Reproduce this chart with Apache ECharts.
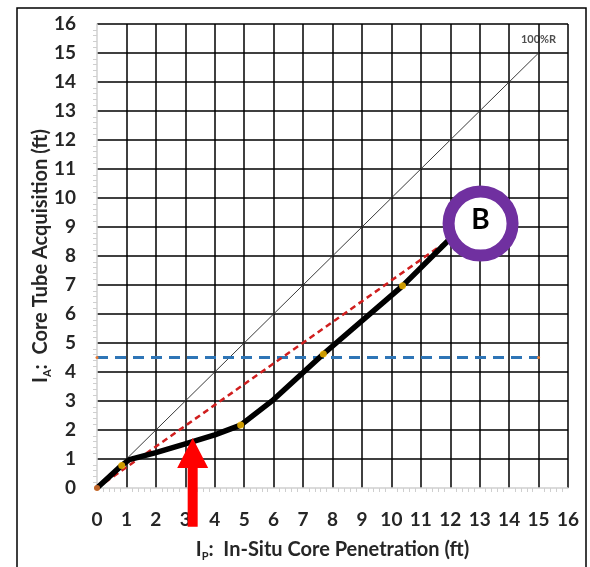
<!DOCTYPE html>
<html>
<head>
<meta charset="utf-8">
<script src="https://cdn.jsdelivr.net/npm/echarts@6/dist/echarts.min.js"></script>
<style>
html,body{margin:0;padding:0;background:#fff;}
#chart{width:590px;height:567px;}
</style>
</head>
<body>
<div id="chart"></div>
<script>
// ---- data ----
const xRange = [0, 16];
const yRange = [0, 16];
// measured core run (black curve)
const penetration = [0, 0.84, 1.1, 2.0, 3.0, 4.0, 4.88, 6.0, 7.69, 10.38, 11.95];
const acquisition = [0, 0.78, 0.98, 1.22, 1.52, 1.83, 2.17, 3.05, 4.62, 6.97, 8.55];
// highlighted measurement points (yellow)
const keyPenetration = [0.84, 4.88, 7.69, 10.38];
const keyAcquisition = [0.78, 2.17, 4.62, 6.97];
// 100% recovery reference
const fullX = [0, 15];
const fullY = [0, 15];
// average-rate line (red dashed)
const avgX = [0, 11.95];
const avgY = [0, 8.55];
// threshold line (blue dashed)
const thresholdX = [0, 15];
const thresholdY = [4.5, 4.5];
// annotations
const markerB = [13.03, 9.12];
const arrowX = 3.25;
const arrowTipY = 1.72;
const arrowBaseY = -1.34;

const zip = (a, b) => a.map((v, i) => [v, b[i]]);
const FONT = 'Lato, "Open Sans", sans-serif';
const TXT = '#262626';

const chart = echarts.init(document.getElementById('chart'), null, {renderer: 'canvas'});

const richName = {
  i: {fontSize: 20, fontWeight: 'bold', fontFamily: FONT, color: TXT, lineHeight: 24},
  s: {fontSize: 11, fontWeight: 'bold', fontFamily: FONT, color: TXT, lineHeight: 13, verticalAlign: 'bottom'},
  t: {fontSize: 20, fontWeight: 'bold', fontFamily: FONT, color: TXT, lineHeight: 24}
};

const option = {
  backgroundColor: '#fff',
  animation: false,
  grid: {left: 97, right: 22, top: 24, bottom: 79, containLabel: false},
  xAxis: {
    type: 'value', min: xRange[0], max: xRange[1], interval: 1,
    name: '{i|I}{s|P}{t|:  In-Situ Core Penetration (ft)}',
    nameLocation: 'middle', nameGap: 50, nameMoveOverlap: false,
    nameTextStyle: {rich: richName},
    axisLine: {show: true, lineStyle: {color: '#d0d0d0', width: 1.5}},
    axisTick: {show: false},
    minorTick: {show: true, splitNumber: 5, length: 4, lineStyle: {color: '#cfcfcf', width: 1}},
    axisLabel: {fontSize: 19, fontWeight: 'bold', fontFamily: FONT, color: TXT, margin: 22},
    splitLine: {show: true, showMinLine: false, lineStyle: {color: '#000', width: 1.5}},
  },
  yAxis: {
    type: 'value', min: yRange[0], max: yRange[1], interval: 1,
    name: '{i|I}{s|A}{t|:  Core Tube Acquisition (ft)}',
    nameLocation: 'middle', nameGap: 44, nameRotate: 90, nameMoveOverlap: false,
    nameTextStyle: {rich: richName},
    axisLine: {show: true, lineStyle: {color: '#d0d0d0', width: 1.5}},
    axisTick: {show: false},
    minorTick: {show: true, splitNumber: 5, length: 4, lineStyle: {color: '#cfcfcf', width: 1}},
    axisLabel: {fontSize: 19, fontWeight: 'bold', fontFamily: FONT, color: TXT, margin: 21},
    splitLine: {show: true, showMinLine: false, lineStyle: {color: '#000', width: 1.5}},
  },
  series: [
    {
      name: '100%R', type: 'line', data: zip(fullX, fullY), symbol: 'none', z: 3,
      lineStyle: {color: '#3a3a3a', width: 1}
    },
    {
      name: '100%R label', type: 'scatter', data: [zip(fullX, fullY)[fullX.length - 1]],
      symbol: 'circle', symbolSize: 1, z: 3, itemStyle: {color: '#3a3a3a'},
      label: {show: true, formatter: '100%R', position: 'top', distance: 8,
        fontSize: 11, fontFamily: FONT, fontWeight: 'bold', color: '#222'}
    },
    {
      name: 'threshold', type: 'line', data: zip(thresholdX, thresholdY),
      symbol: 'circle', symbolSize: 3, z: 4,
      itemStyle: {color: '#ED7D31'},
      lineStyle: {color: '#2E75B6', width: 3, type: [11, 7]}
    },
    {
      name: 'average', type: 'line', data: zip(avgX, avgY), symbol: 'none', z: 5,
      lineStyle: {color: '#D01E1E', width: 2.5, type: [6, 4]}
    },
    {
      name: 'run', type: 'line', data: zip(penetration, acquisition), symbol: 'none', z: 6,
      lineStyle: {color: '#000', width: 5.5, join: 'round', cap: 'round'}
    },
    {
      name: 'keys', type: 'scatter', data: zip(keyPenetration, keyAcquisition),
      symbol: 'circle', symbolSize: 7, z: 7, itemStyle: {color: '#FFC000'}
    },
    {
      name: 'origin', type: 'scatter', data: [[0, 0]],
      symbol: 'circle', symbolSize: 6, z: 7, itemStyle: {color: '#ED7D31'}
    },
    {
      name: 'B', type: 'scatter', data: [markerB], symbol: 'circle', symbolSize: 64, z: 10,
      itemStyle: {color: '#fff', borderColor: '#7030A0', borderWidth: 12, opacity: 1},
      label: {show: true, position: 'inside', formatter: 'B', fontSize: 28, fontWeight: 'bold',
        fontFamily: FONT, color: '#000', offset: [0, -4]}
    }
  ]
};
chart.setOption(option);

const tip = chart.convertToPixel({gridIndex: 0}, [arrowX, arrowTipY]);
const base = chart.convertToPixel({gridIndex: 0}, [arrowX, arrowBaseY]);
const cx = tip[0], ty = tip[1], by = base[1];
const headH = 30, headW = 15.5, shaftW = 5;
chart.setOption({
  graphic: [
    {
      type: 'rect', z: 100,
      shape: {x: 17, y: 8, width: 569, height: 600},
      style: {fill: 'none', stroke: '#000', lineWidth: 1.5},
      silent: true
    },
    {
      type: 'polygon', z: 100,
      shape: {points: [
        [cx, ty], [cx + headW, ty + headH], [cx + shaftW, ty + headH],
        [cx + shaftW, by], [cx - shaftW, by], [cx - shaftW, ty + headH],
        [cx - headW, ty + headH]
      ]},
      style: {fill: '#FF0000'}
    }
  ]
});
</script>
</body>
</html>
